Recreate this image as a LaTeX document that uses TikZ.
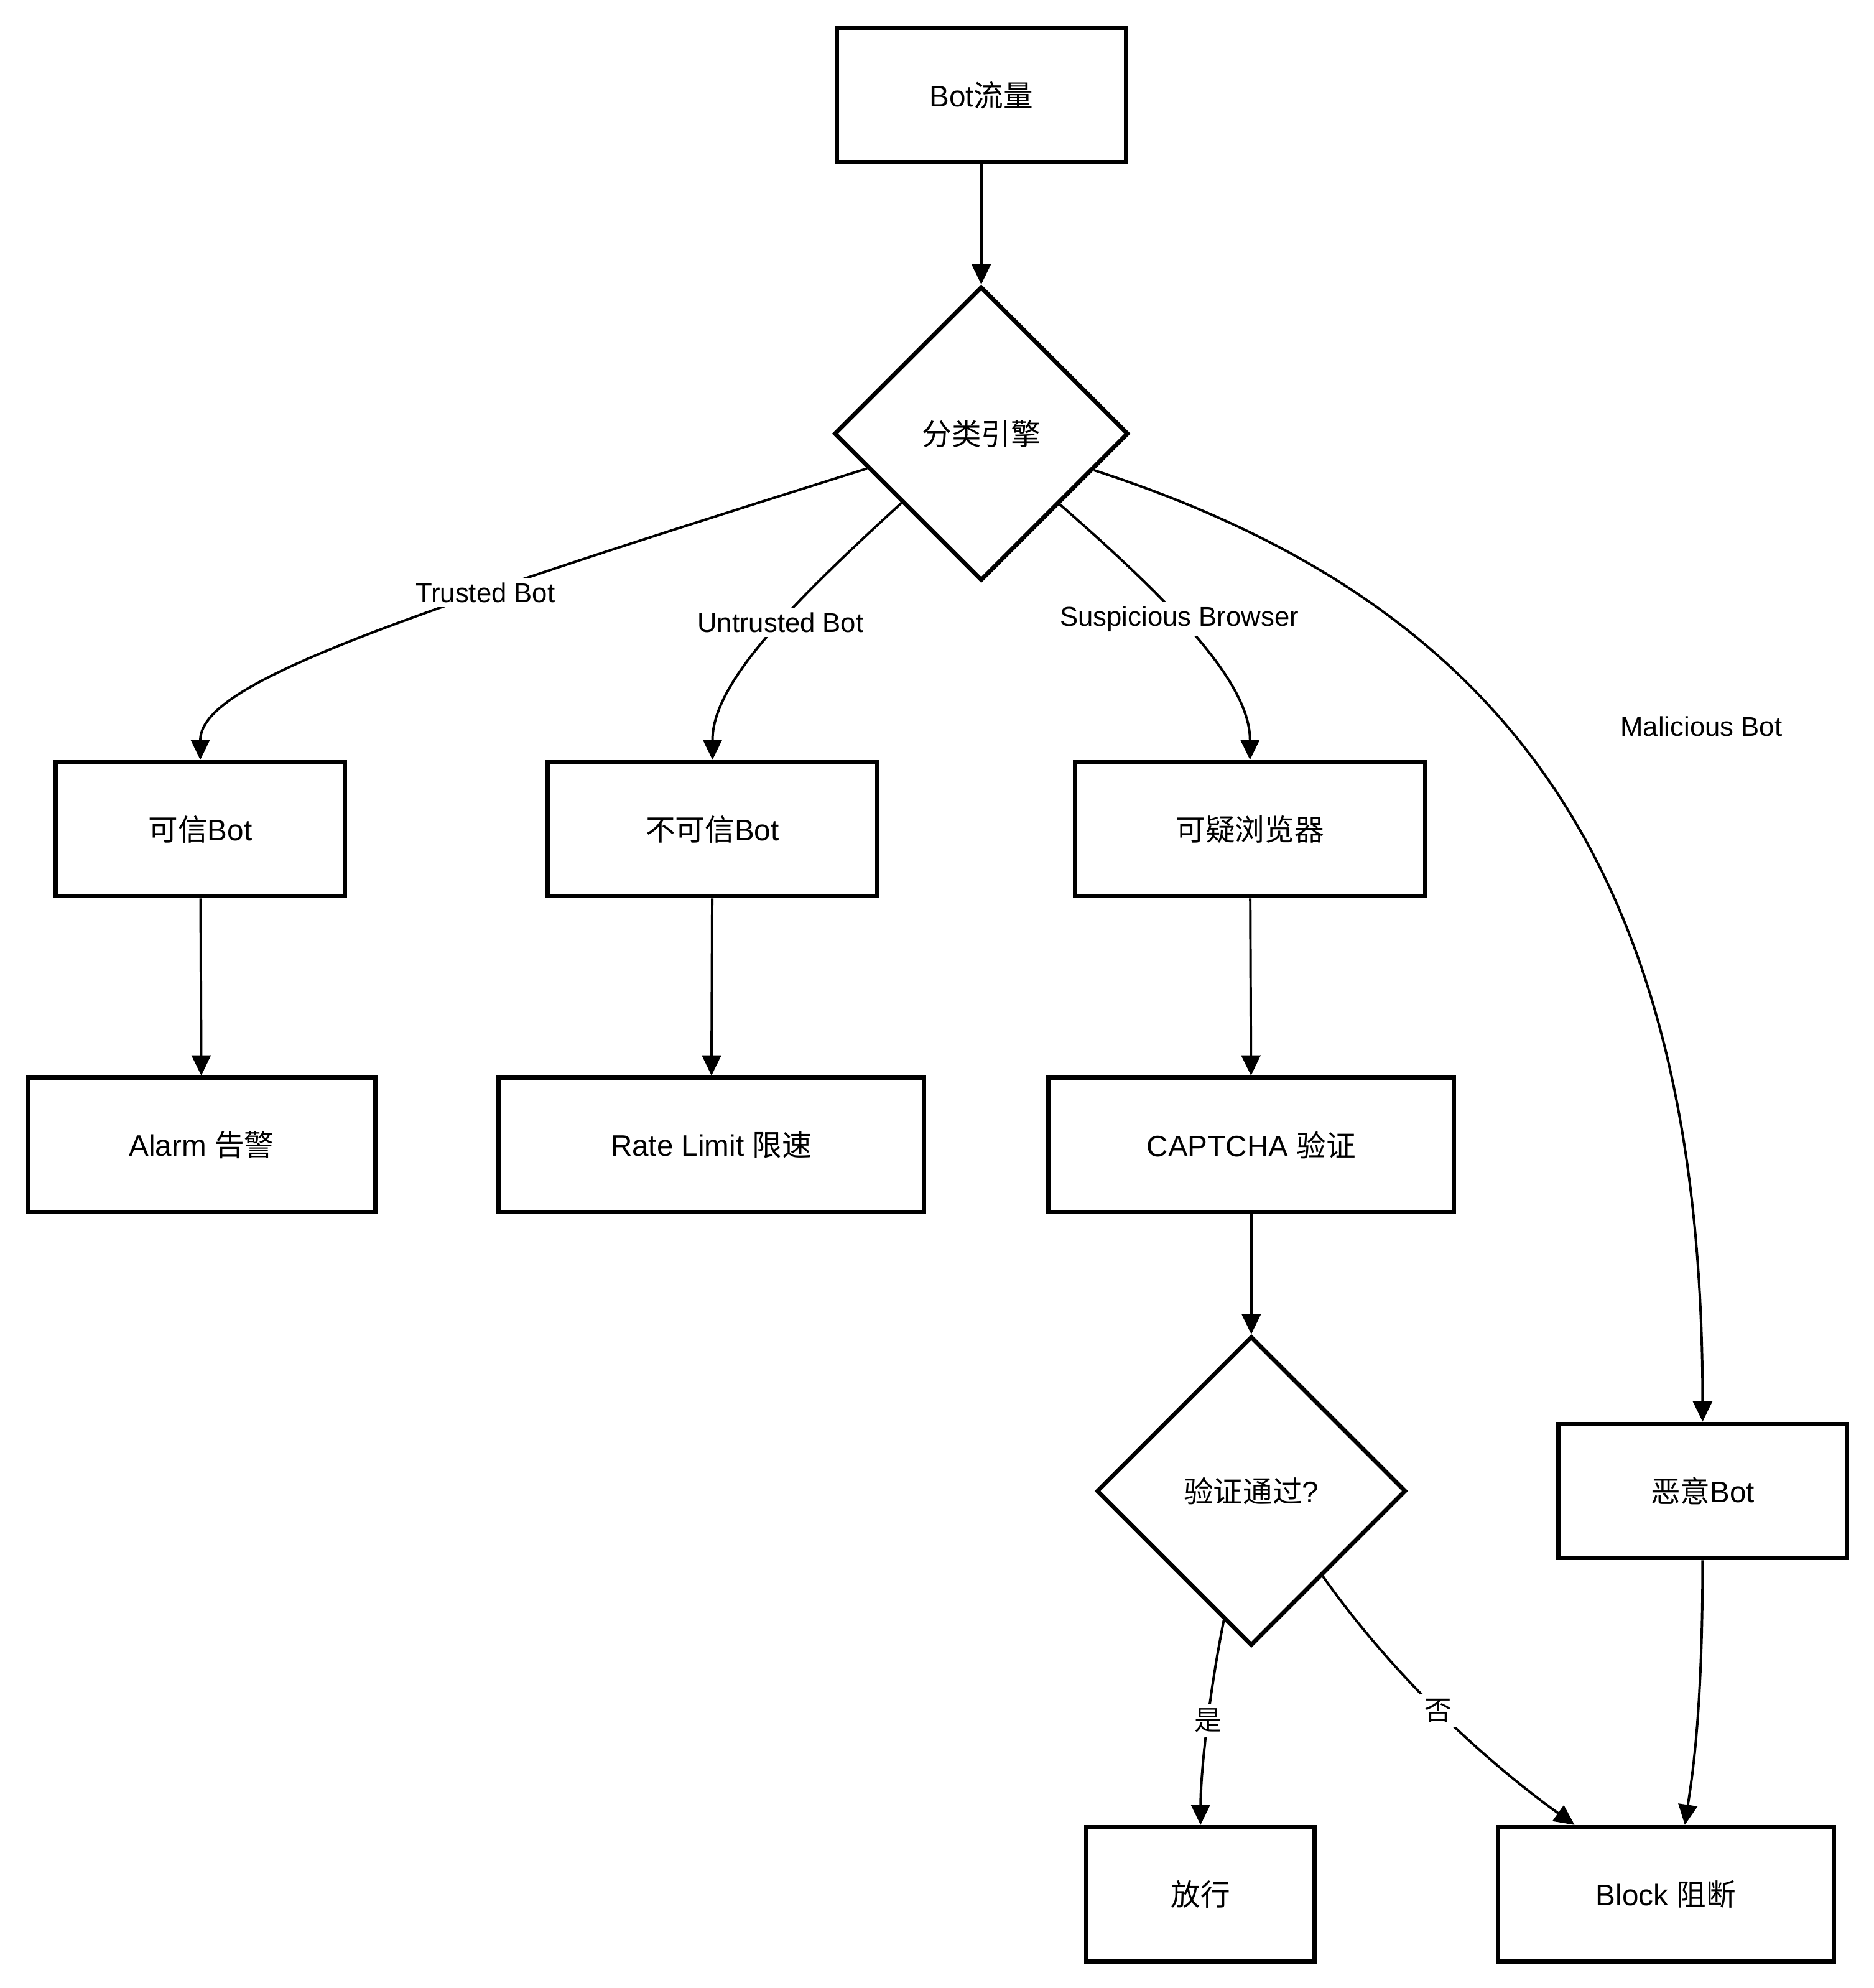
\documentclass[tikz,border=0pt]{standalone}
\usepackage{fontspec}
\setmainfont{Liberation Sans}
\newfontfamily\cjk{Noto Sans CJK SC}
\usetikzlibrary{shapes.geometric,arrows.meta}
\newcommand\mybodyfont{\fontsize{13.3}{16}\selectfont}
\newcommand\mylabelfont{\fontsize{12.2}{14}\selectfont}
\begin{document}
\begin{tikzpicture}[x=0.02cm,y=-0.02cm,
  box/.style={draw,line width=1.9pt,rectangle,minimum height=2.12cm,inner sep=0pt,font=\mybodyfont},
  dia/.style={draw,line width=1.9pt,diamond,aspect=1,inner sep=0pt,font=\mybodyfont},
  conn/.style={line width=1.1pt,-{Triangle[length=0.32cm,width=0.3cm]}},
  lbl/.style={fill=white,inner sep=2pt,font=\mylabelfont}]
\useasboundingbox[fill=white] (0,0) rectangle (1478,1568);

\node[box,minimum width=4.56cm] (src) at (774,75) {Bot{\cjk 流量}};
\node[dia,minimum width=4.64cm,minimum height=4.64cm] (cls) at (774,342) {{\cjk 分类引擎}};
\node[box,minimum width=4.56cm] (ok) at (158,654) {{\cjk 可信}Bot};
\node[box,minimum width=5.2cm] (unt) at (562,654) {{\cjk 不可信}Bot};
\node[box,minimum width=5.52cm] (sus) at (986,654) {{\cjk 可疑浏览器}};
\node[box,minimum width=5.48cm] (alarm) at (159,903) {Alarm {\cjk 告警}};
\node[box,minimum width=6.72cm] (rate) at (561,903) {Rate Limit {\cjk 限速}};
\node[box,minimum width=6.4cm] (cap) at (987,903) {CAPTCHA {\cjk 验证}};
\node[dia,minimum width=4.88cm,minimum height=4.88cm] (pass) at (987,1176) {{\cjk 验证通过}?};
\node[box,minimum width=4.56cm] (mal) at (1343,1176) {{\cjk 恶意}Bot};
\node[box,minimum width=3.6cm] (allow) at (947,1494) {{\cjk 放行}};
\node[box,minimum width=5.3cm] (blk) at (1314,1494) {Block {\cjk 阻断}};

\draw[conn] (src) -- (cls);
\draw[conn] (cls.197) .. controls (300,490) and (158,540) .. node[lbl,pos=0.325] (l1) {Trusted Bot} (ok.north);
\draw[conn] (cls.221.6) .. controls (620,480) and (562,540) .. node[lbl,pos=0.42] (l2) {Untrusted Bot} (unt.north);
\draw[conn] (cls.318.8) .. controls (930,480) and (986,540) .. node[lbl,pos=0.405] (l3) {Suspicious Browser} (sus.north);
\draw[conn] (cls.342.4) .. controls (1200,480) and (1343,700) .. (mal.north);
\node[font=\mylabelfont] (l4) at (1342,573) {Malicious Bot};

\draw[conn] (ok) -- (alarm);
\draw[conn] (unt) -- (rate);
\draw[conn] (sus) -- (cap);
\draw[conn] (cap) -- (pass);

\draw[conn] (pass.258.4) .. controls (953,1340) and (947,1400) .. node[lbl,pos=0.44] (l5) {{\cjk 是}} (allow.north);
\draw[conn] (pass.310) .. controls (1105,1330) and (1180,1395) .. node[lbl,pos=0.46] (l6) {{\cjk 否}} ([xshift=-1.44cm]blk.north);
\draw[conn] (mal.south) .. controls (1343,1350) and (1335,1400) .. ([xshift=0.3cm]blk.north);
\end{tikzpicture}
\end{document}
